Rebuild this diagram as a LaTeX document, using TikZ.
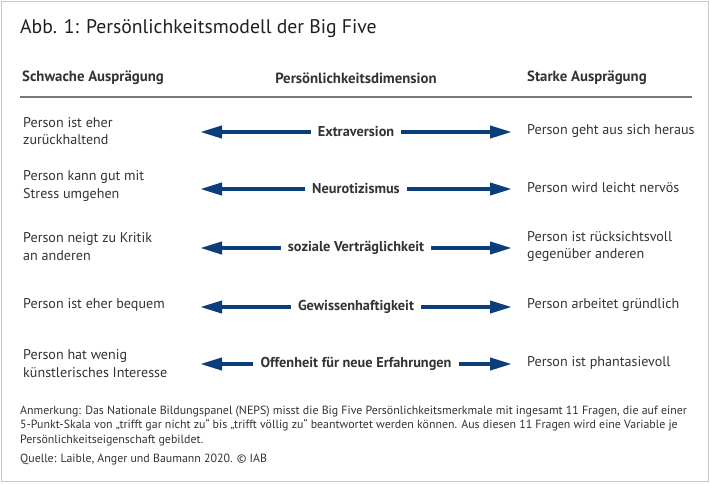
\documentclass[tikz,border=0pt]{standalone}
\usepackage{fontspec}
\setmainfont{PT Sans}
\usetikzlibrary{arrows.meta}
\definecolor{txt}{RGB}{51,51,51}
\definecolor{arrblue}{RGB}{12,62,124}
\definecolor{frame}{RGB}{200,200,200}
\definecolor{rule}{RGB}{120,120,120}
\tikzset{
  body/.style={font=\fontsize{14.1}{17.5}\selectfont, text=txt, anchor=west, align=left, inner sep=0pt},
  dim/.style={font=\bfseries\fontsize{14.3}{17.5}\selectfont, text=txt, inner xsep=7pt, inner ysep=0pt},
  head/.style={font=\bfseries\fontsize{14.8}{16}\selectfont, text=txt, inner sep=0pt},
  note/.style={font=\fontsize{11.9}{14.6}\selectfont, text=txt, anchor=north west, align=left, inner sep=0pt},
  arr/.style={draw=arrblue, line width=4pt, -{Triangle[length=22pt,width=12pt]}},
}
\begin{document}
\begin{tikzpicture}[x=1pt,y=-1pt]
\useasboundingbox (0,0) rectangle (710,483);
\draw[frame, line width=1.2pt] (1.5,1.5) rectangle (708.5,481.5);
\node[anchor=west, inner sep=0pt, text=black!88, font=\fontsize{19.7}{24}\selectfont] (title) at (20,29) {Abb. 1: Persönlichkeitsmodell der Big Five};
\node[head, anchor=west] (hl) at (22,78) {Schwache Ausprägung};
\node[head] (hm) at (356,78) {Persönlichkeitsdimension};
\node[head, anchor=west] (hr) at (527,78) {Starke Ausprägung};
\draw[rule, line width=1.2pt] (20,97) coordinate (r0) -- (692,97) coordinate (r1);
% rows
\node[body] (a1) at (23,131) {Person ist eher\\zurückhaltend};
\node[body] (a2) at (23,186) {Person kann gut mit\\Stress umgehen};
\node[body] (a3) at (23,246.5) {Person neigt zu Kritik\\an anderen};
\node[body] (a4) at (23,305) {Person ist eher bequem};
\node[body] (a5) at (23,363.5) {Person hat wenig\\künstlerisches Interesse};
\node[body] (b1) at (527,131) {Person geht aus sich heraus};
\node[body] (b2) at (527,188) {Person wird leicht nervös};
\node[body] (b3) at (527,246.5) {Person ist rücksichtsvoll\\gegenüber anderen};
\node[body] (b4) at (527,305) {Person arbeitet gründlich};
\node[body] (b5) at (527,363) {Person ist phantasievoll};
\node[dim] (d1) at (356,132) {Extraversion};
\node[dim] (d2) at (356,189) {Neurotizismus};
\node[dim] (d3) at (356,248) {soziale Verträglichkeit};
\node[dim] (d4) at (356,307) {Gewissenhaftigkeit};
\node[dim] (d5) at (356,364) {Offenheit für neue Erfahrungen};
\foreach \i/\y in {1/132,2/189,3/248,4/307,5/364}{
  \coordinate (l\i) at (200,\y);
  \coordinate (r\i) at (512,\y);
  \draw[arr] (d\i.west) -- (l\i);
  \draw[arr] (d\i.east) -- (r\i);
}
\node[note] (n1) at (20,405.5) {Anmerkung: Das Nationale Bildungspanel (NEPS) misst die Big Five Persönlichkeitsmerkmale mit ingesamt 11 Fragen, die auf einer\\5-Punkt-Skala von „trifft gar nicht zu“ bis „trifft völlig zu“ beantwortet werden können. Aus diesen 11 Fragen wird eine Variable je\\Persönlichkeitseigenschaft gebildet.};
\node[note] (n2) at (20,453.5) {Quelle: Laible, Anger und Baumann 2020. © IAB};
\end{tikzpicture}
\end{document}
